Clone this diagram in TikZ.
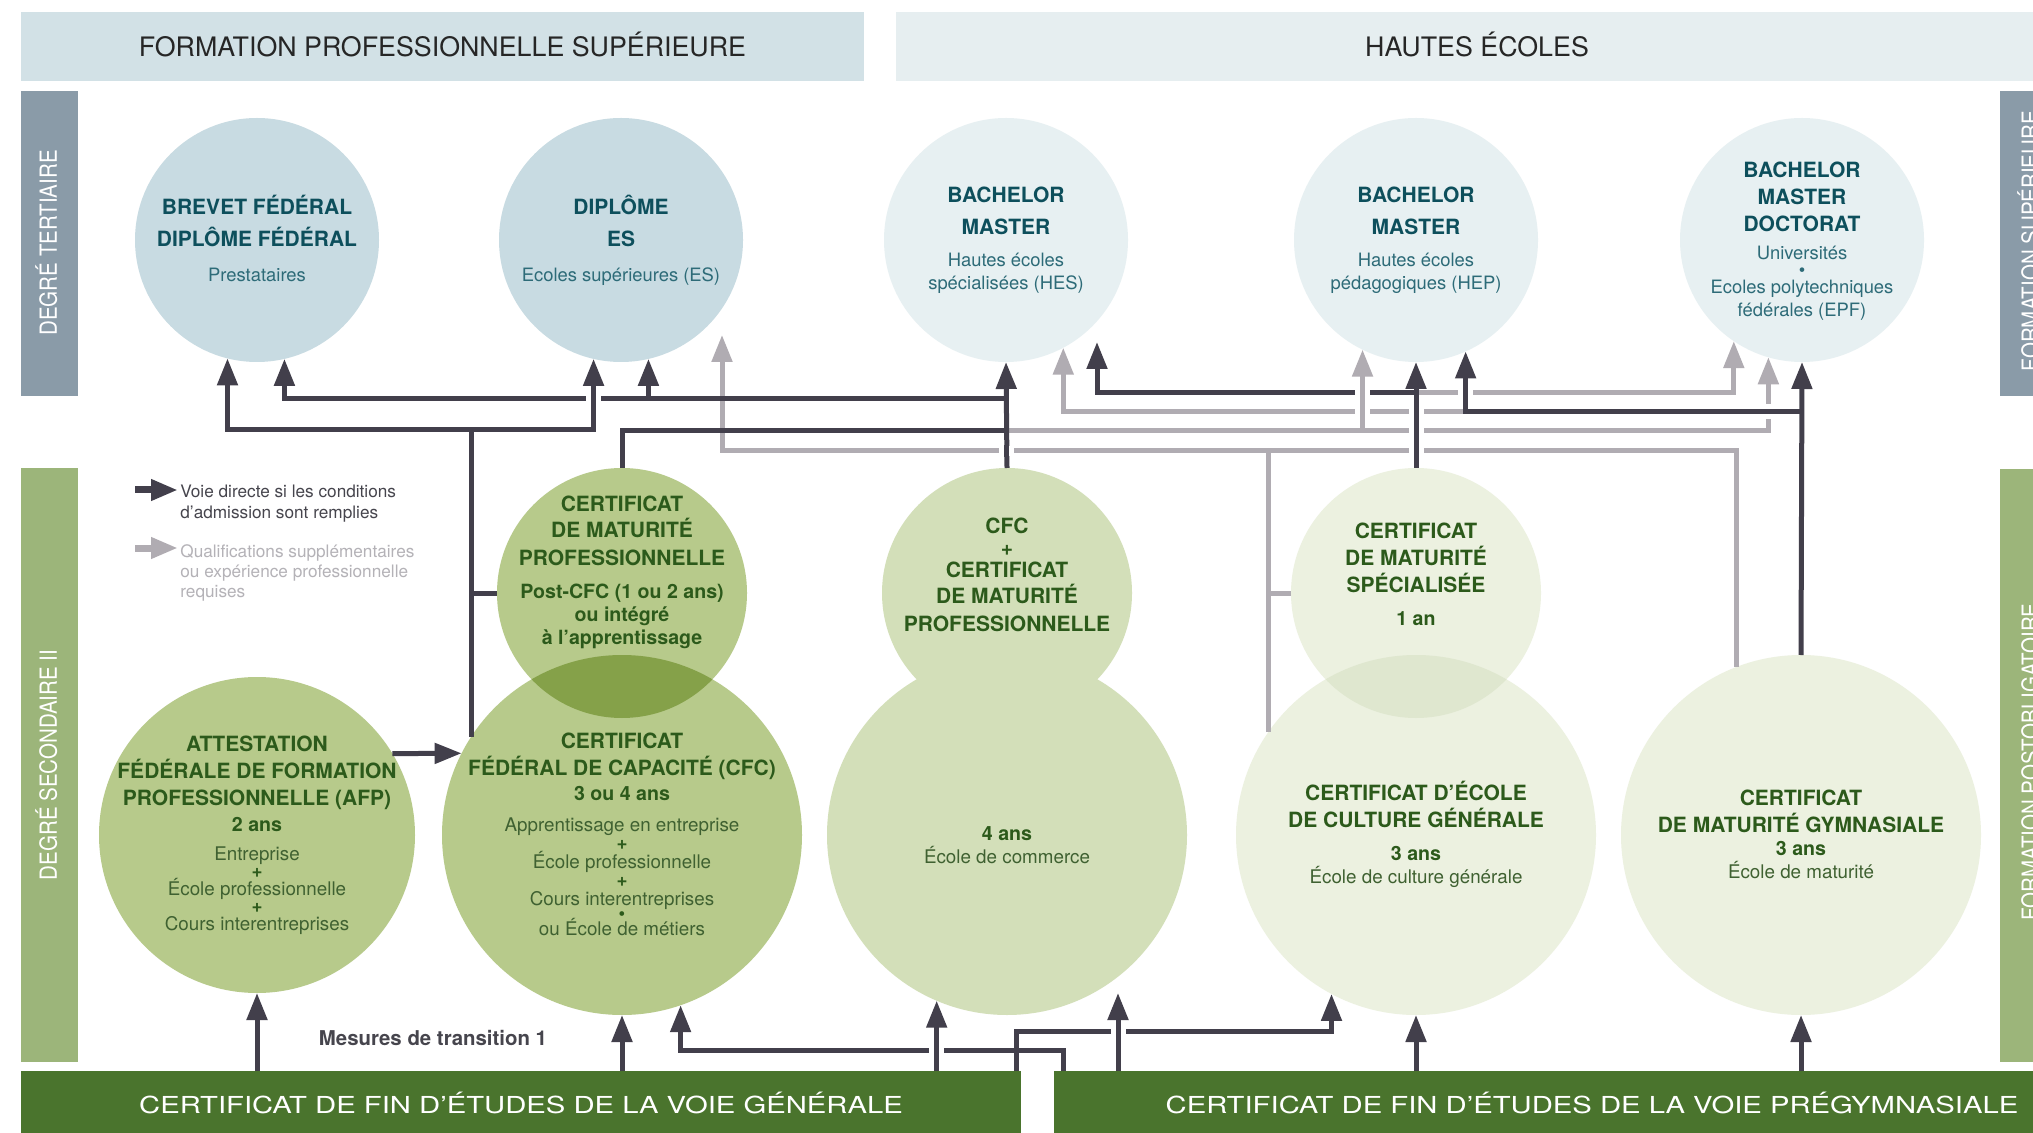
\documentclass[tikz,border=0pt]{standalone}
\usepackage{fontspec}
\setmainfont{TeX Gyre Heros}
\newfontfamily\barfont{TeX Gyre Heros}[FakeStretch=1.25]
\newfontfamily\sidefont{TeX Gyre Heros}[FakeStretch=0.87]
\usetikzlibrary{arrows.meta}
\definecolor{tcol}{HTML}{C8DBE2}
\definecolor{hcol}{HTML}{E7F0F2}
\definecolor{gcola}{HTML}{B7CA8B}
\definecolor{gcolb}{HTML}{D3DFB9}
\definecolor{gcolc}{HTML}{ECF1E0}
\definecolor{lensa}{HTML}{85A149}
\definecolor{lensc}{HTML}{DFE7CF}
\definecolor{hdra}{HTML}{D2E1E6}
\definecolor{hdrb}{HTML}{E6EEF0}
\definecolor{sidet}{HTML}{8A9BA8}
\definecolor{sides}{HTML}{9CB57A}
\definecolor{barcol}{HTML}{4A742D}
\definecolor{dkline}{HTML}{423F4B}
\definecolor{grline}{HTML}{B0ACB2}
\definecolor{tealtxt}{HTML}{0D4F5C}
\definecolor{tealsub}{HTML}{2D6B78}
\definecolor{grtxt}{HTML}{2C5A1B}
\definecolor{grsub}{HTML}{3F6131}
\definecolor{lgtxt}{HTML}{46454D}
\definecolor{lgsub}{HTML}{B4B2B7}
\newcommand{\pl}{{\color{grtxt}\bfseries +}}
\newcommand{\bul}{{\color{grtxt}•}}
\newcommand{\yrs}[1]{{\fontsize{9.8}{12}\selectfont #1}}
\newcommand{\subtxt}[1]{{\mdseries\color{grsub}\fontsize{9.4}{12}\selectfont #1}}
\tikzset{every picture/.style={x=0.5pt,y=-0.5pt}}
\tikzset{disc/.style={circle,inner sep=0pt,outer sep=0pt,minimum size=#1}}
\tikzset{band/.style={inner sep=0pt,outer sep=0pt,text depth=0pt}}
\tikzset{link/.style={draw=dkline,line width=2.5pt}}
\tikzset{extra/.style={draw=grline,line width=2.5pt}}
\tikzset{arr/.style={-{Triangle[length=13.5pt,width=10pt]}}}
\tikzset{tbold/.style={text=tealtxt,font=\fontsize{10.5}{16}\selectfont\bfseries,align=center,anchor=base,inner sep=0pt}}
\tikzset{treg/.style={text=tealsub,font=\fontsize{9.2}{11.5}\selectfont,align=center,anchor=base,inner sep=0pt}}
\tikzset{sbold/.style={text=grtxt,font=\fontsize{10.5}{13.5}\selectfont\bfseries,align=center,anchor=base,inner sep=0pt}}
\tikzset{sreg/.style={text=grsub,font=\fontsize{9.4}{9.25}\selectfont,align=center,anchor=base,inner sep=0pt}}
\tikzset{legend/.style={text=lgtxt,font=\fontsize{8.6}{10}\selectfont,align=left,anchor=base west,inner sep=0pt}}
\tikzset{side/.style={text=white,rotate=90,font=\sidefont\fontsize{11.8}{12}\selectfont,text height=8.4pt,text depth=0pt,inner sep=0pt}}
\newcommand{\gapv}[2]{%
  \draw [white,line width=7.5pt] ([yshift=-2.6pt]#2) -- ([yshift=2.6pt]#2);
  \draw [#1] ([yshift=-3pt]#2) -- ([yshift=3pt]#2);}
\newcommand{\gaph}[2]{%
  \draw [white,line width=7.5pt] ([xshift=-2.6pt]#2) -- ([xshift=2.6pt]#2);
  \draw [#1] ([xshift=-3pt]#2) -- ([xshift=3pt]#2);}

\begin{document}
\begin{tikzpicture}
\fill [white] (0,0) rectangle (2033,1133);
\useasboundingbox (0,0) rectangle (2033,1133);
\clip (0,0) rectangle (2033,1133);

% headers and side bands
\node [band,fill=hdra,minimum width=421.5pt,minimum height=34.5pt,text height=9.6pt,font=\fontsize{13.4}{16}\selectfont,text=black!85] (fps) at (442.5,46.5) {FORMATION PROFESSIONNELLE SUPÉRIEURE};
\node [band,fill=hdrb,minimum width=581pt,minimum height=34.5pt,text height=9.6pt,font=\fontsize{13.4}{16}\selectfont,text=black!85] (hes-h) at (1477,46.5) {HAUTES ÉCOLES};
\node [band,fill=sidet,minimum width=28.5pt,minimum height=152.5pt] (dt) at (49.5,243.5) {};
\node [side] at (48.5,243) {DEGRÉ TERTIAIRE};
\node [band,fill=sides,minimum width=28.5pt,minimum height=297pt] (ds) at (49.5,765) {};
\node [side] at (48.5,765) {DEGRÉ SECONDAIRE II};
\node [band,fill=sidet,minimum width=30pt,minimum height=152.5pt] (fs) at (2030,243.5) {};
\node [side] at (2030.5,241) {FORMATION SUPÉRIEURE};
\node [band,fill=sides,minimum width=30pt,minimum height=296.5pt] (fp) at (2030,765.5) {};
\node [side] at (2030.5,762) {FORMATION POSTOBLIGATOIRE};
\node [band,fill=barcol,minimum width=500pt,minimum height=34.5pt,text=white,text height=8.35pt,font=\barfont\fontsize{11.7}{14}\selectfont] (gen) at (521,1105.5) {CERTIFICAT DE FIN D’ÉTUDES DE LA VOIE GÉNÉRALE};
\node [band,fill=barcol,minimum width=538pt,minimum height=34.5pt,text=white,text height=8.35pt,font=\barfont\fontsize{11.7}{14}\selectfont] (pre) at (1592,1105.5) {CERTIFICAT DE FIN D’ÉTUDES DE LA VOIE PRÉGYMNASIALE};

% tertiary level
\node [disc=122pt,fill=tcol] (bf) at (257,240) {};
\node [disc=122pt,fill=tcol] (es) at (621,240) {};
\node [disc=122pt,fill=hcol] (hes) at (1006,240) {};
\node [disc=122pt,fill=hcol] (hep) at (1416,240) {};
\node [disc=122pt,fill=hcol] (uni) at (1802,240) {};

% secondary level
\node [disc=158pt,fill=gcola] (afp) at (257,835) {};
\node [disc=180pt,fill=gcola] (cfc) at (622,835) {};
\node [disc=125pt,fill=gcola] (cmp) at (622,593) {};
\node [disc=180pt,fill=gcolb] (com) at (1007,835) {};
\node [disc=125pt,fill=gcolb] (mpc) at (1007,593) {};
\node [disc=180pt,fill=gcolc] (ecg) at (1416,835) {};
\node [disc=125pt,fill=gcolc] (cms) at (1416,593) {};
\node [disc=180pt,fill=gcolc] (mg) at (1801,835) {};
\begin{scope}
\clip (cmp.center) circle [radius=125];
\fill [lensa] (cfc.center) circle [radius=180];
\end{scope}
\begin{scope}
\clip (cms.center) circle [radius=125];
\fill [lensc] (ecg.center) circle [radius=180];
\end{scope}

% rows of the routes
\coordinate (rowA) at (0,430);
\coordinate (rowB) at (0,399);
\coordinate (rowC) at (0,431);
\coordinate (rowD) at (0,451);
\coordinate (rowE) at (0,412);
\coordinate (rowF) at (0,393);
\coordinate (rowG) at (0,1050);
\coordinate (rowH) at (0,1031);
\coordinate (es3) at (722,335);
\coordinate (hes3) at (1097,342);
\coordinate (t1) at (1118,993);
\coordinate (b1) at (1063,1071);
\coordinate (b3) at (1016,1071);

% grey routes
\draw [extra,arr] (mg.111) |- (es3 |- rowD) -- (es3);
\draw [extra] (ecg.145) -- (ecg.145 |- rowD);
\draw [extra] (cms.west) -- (cms.west -| ecg.145);
\draw [extra,arr] (hes.south |- rowC) -| (uni.-106);
\draw [extra,arr] (hep.-116 |- rowC) -- (hep.-116);
\draw [extra,arr] (hep.-66 |- rowE) -| (hes.-62);
\draw [extra,arr] (hep.south |- rowF) -| (uni.-124.5);

% direct routes
\draw [link,arr] (cfc.147) |- (bf.-104 |- rowA) -- (bf.-104);
\draw [link,arr] (cfc.147 |- rowA) -| (es.-103);
\draw [link] (cmp.west) -- (cmp.west -| cfc.147);
\draw [link,arr] (afp.31) -- (cfc.153);
\draw [link,arr] (mpc.north) -- (hes.south);
\draw [link,arr] (hes.south |- rowB) -| (bf.-77);
\draw [link,arr] (es.-77 |- rowB) -- (es.-77);
\draw [link] (cmp.north) |- (hes.south |- rowC);
\draw [link,arr] (mg.north) -- (uni.south);
\draw [link,arr] (uni.south |- rowE) -| (hep.-66);
\draw [link,arr] (cms.north) -- (hep.south);
\draw [link,arr] (hep.south |- rowF) -| (hes3);

% from the end of compulsory school
\draw [link,arr] (afp.south |- gen.north) -- (afp.south);
\draw [link,arr] (cfc.south |- gen.north) -- (cfc.south);
\draw [link,arr] (b1) |- (cfc.-71.5 |- rowG) -- (cfc.-71.5);
\draw [link,arr] (com.-113 |- gen.north) -- (com.-113);
\draw [link,arr] (b3) |- (ecg.-118 |- rowH) -- (ecg.-118);
\draw [link,arr] (t1 |- pre.north) -- (t1);
\draw [link,arr] (ecg.south |- pre.north) -- (ecg.south);
\draw [link,arr] (mg.south |- pre.north) -- (mg.south);

% crossings
\coordinate (c1) at (es.-103 |- rowB);
\coordinate (c2) at (hes.south |- rowD);
\coordinate (c3) at (hep.south |- rowD);
\coordinate (c4) at (hep.south |- rowC);
\coordinate (c5) at (hep.south |- rowE);
\coordinate (c6) at (hep.-116 |- rowE);
\coordinate (c7) at (hep.-116 |- rowF);
\coordinate (c8) at (hep.-66 |- rowF);
\coordinate (c9) at (uni.-106 |- rowE);
\coordinate (c10) at (com.-113 |- rowG);
\coordinate (c11) at (t1 |- rowH);
\gapv{link}{c1}
\gapv{link}{c2}
\gapv{link}{c3}
\gapv{link}{c4}
\gapv{link}{c5}
\gapv{extra}{c6}
\gapv{extra}{c7}
\gapv{link}{c8}
\gaph{link}{c9}
\gapv{link}{c10}
\gapv{link}{c11}

% legend
\draw [link,arr,line width=3.5pt] (135,490) -- (178,490);
\draw [extra,arr,line width=3.5pt] (135,548) -- (178,548);
\node [legend] (lg-d) at (180,518) {Voie directe si les conditions\\d’admission sont remplies};
\node [legend,text=lgsub] (lg-g) at (180,597) {Qualifications supplémentaires\\ou expérience professionnelle\\requises};
\node [text=lgtxt,font=\fontsize{10.2}{12}\selectfont\bfseries,anchor=base,inner sep=0pt] (mt) at (433,1045) {Mesures de transition 1};

% texts, tertiary (anchored on the last line)
\node [tbold] (bf-t) at (257,247) {BREVET FÉDÉRAL\\DIPLÔME FÉDÉRAL};
\node [treg] (bf-s) at (257,282) {Prestataires};
\node [tbold] (es-t) at (621,247) {DIPLÔME\\ES};
\node [treg] (es-s) at (621,282) {Ecoles supérieures (ES)};
\node [tbold] (hes-t) at (1006,235) {BACHELOR\\MASTER};
\node [treg] (hes-s) at (1006,290) {Hautes écoles\\spécialisées (HES)};
\node [tbold] (hep-t) at (1416,235) {BACHELOR\\MASTER};
\node [treg] (hep-s) at (1416,290) {Hautes écoles\\pédagogiques (HEP)};
\node [tbold,font=\fontsize{10.5}{13.5}\selectfont\bfseries] (uni-t) at (1802,232) {BACHELOR\\MASTER\\DOCTORAT};
\node [treg] (uni-s) at (1802,317) {Universités\\[-3pt]•\\[-3pt]Ecoles polytechniques\\fédérales (EPF)};

% texts, secondary (anchored on the last line)
\node [sbold] (cmp-t) at (622,565) {CERTIFICAT\\DE MATURITÉ\\PROFESSIONNELLE};
\node [sbold,font=\fontsize{9.8}{11.5}\selectfont\bfseries] (cmp-s) at (622,644) {Post-CFC (1 ou 2 ans)\\ou intégré\\à l’apprentissage};
\node [sbold] (afp-t) at (257,831) {ATTESTATION\\FÉDÉRALE DE FORMATION\\PROFESSIONNELLE (AFP)\\[-0.75pt]\yrs{2 ans}};
\node [sreg,font=\fontsize{9.4}{8.75}\selectfont] (afp-s) at (257,930) {Entreprise\\\pl\\École professionnelle\\\pl\\Cours interentreprises};
\node [sbold] (cfc-t) at (622,800) {CERTIFICAT\\FÉDÉRAL DE CAPACITÉ (CFC)\\[-1pt]\yrs{3 ou 4 ans}};
\node [sreg] (cfc-s) at (622,935) {Apprentissage en entreprise\\\pl\\École professionnelle\\\pl\\Cours interentreprises\\[-1.75pt]\bul\\[-1.75pt]ou École de métiers};
\node [sbold] (mpc-t) at (1007,631) {CFC\\[-2.5pt]\pl\\[-2.5pt]CERTIFICAT\\DE MATURITÉ\\PROFESSIONNELLE};
\node [sbold,font=\fontsize{9.8}{11.5}\selectfont\bfseries] (com-t) at (1007,863) {4 ans\\\subtxt{École de commerce}};
\node [sbold] (cms-t) at (1416,625) {CERTIFICAT\\DE MATURITÉ\\SPÉCIALISÉE\\[3pt]\yrs{1 an}};
\node [sbold] (ecg-t) at (1416,883) {CERTIFICAT D’ÉCOLE\\DE CULTURE GÉNÉRALE\\[3pt]\yrs{3 ans}\\[-2pt]\subtxt{École de culture générale}};
\node [sbold] (mg-t) at (1801,878) {CERTIFICAT\\DE MATURITÉ GYMNASIALE\\[-2pt]\yrs{3 ans}\\[-2pt]\subtxt{École de maturité}};
\end{tikzpicture}
\end{document}
